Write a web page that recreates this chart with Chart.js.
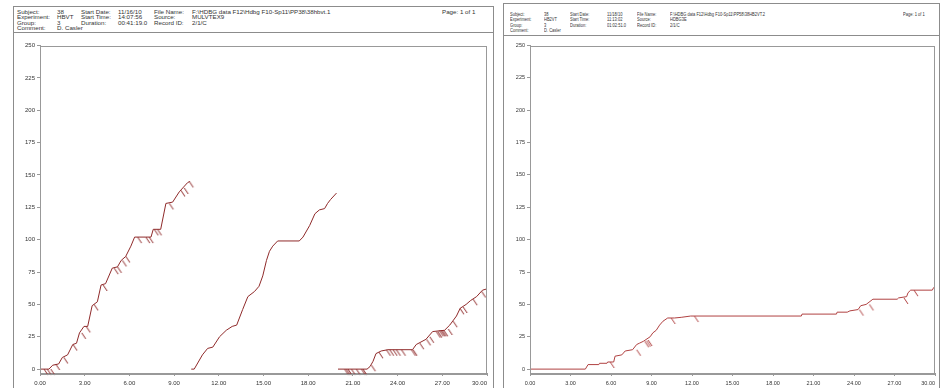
<!DOCTYPE html>
<html>
<head>
<meta charset="utf-8">
<script src="https://cdn.jsdelivr.net/npm/chart.js@4"></script>
<style>
  html, body { margin: 0; padding: 0; background: #fff; width: 940px; height: 388px; overflow: hidden; }
  .panel { position: absolute; border: 1px solid #8c8c8c; border-bottom: none; box-sizing: border-box; }
  .rule { position: absolute; height: 0; border-top: 1px solid #8c8c8c; }
  .hdr { position: absolute; font-family: 'Liberation Sans', Arial, sans-serif; color: #333; white-space: nowrap; transform-origin: 0 50%; }
  canvas { position: absolute; }
</style>
</head>
<body>
<script>
// ---------- session header text ----------
const leftHeader = [
  ['Subject:', '38', 'Start Date:', '11/16/10', 'File Name:', 'F:\\HDBG data F12\\Hdbg F10-Sp11\\PP38\\38hbvt.1'],
  ['Experiment:', 'HBVT', 'Start Time:', '14:07:56', 'Source:', 'MULVTEX9'],
  ['Group:', '3', 'Duration:', '00:41:19.0', 'Record ID:', '2/1/C'],
  ['Comment:', 'D. Casler']
];
const rightHeader = [
  ['Subject:', '38', 'Start Date:', '11/18/10', 'File Name:', 'F:\\HDBG data F12\\Hdbg F10-Sp11\\PP58\\38HB2VT.2'],
  ['Experiment:', 'HB2VT', 'Start Time:', '11:13:02', 'Source:', 'HDBG3E'],
  ['Group:', '3', 'Duration:', '01:02:51.0', 'Record ID:', '2/1/C'],
  ['Comment:', 'D. Casler']
];
const pageText = 'Page: 1 of 1';

// ---------- axis ticks (minutes, cumulative responses) ----------
const xTicks = [0, 3, 6, 9, 12, 15, 18, 21, 24, 27, 30];
const yTicks = [0, 25, 50, 75, 100, 125, 150, 175, 200, 225, 250];

// ---------- HBVT record: pen resets at each excursion ----------
const hbvtSeg1T = [0, 0.6, 0.85, 1.25, 1.5, 1.85, 2.2, 2.45, 2.65, 2.95, 3.2, 3.5, 3.85, 4.1, 4.4, 4.85, 5.2, 5.45, 5.75, 6.1, 6.35, 7.1, 7.45, 7.6, 8.1, 8.45, 8.9, 9.35, 9.9, 10.05];
const hbvtSeg1V = [0, 0, 3, 4, 9, 11, 19, 20, 28, 33, 33, 49, 52, 65, 66, 78, 79, 84, 87, 95, 102, 102, 102, 108, 108, 128, 129, 137, 144, 145];

const hbvtSeg2T = [10.15, 10.35, 10.9, 11.25, 11.6, 12.05, 12.5, 12.9, 13.2, 13.6, 13.95, 14.4, 14.7, 14.95, 15.2, 15.4, 15.62, 15.95, 17.4, 17.65, 18.1, 18.45, 18.75, 19.1, 19.3, 19.5, 19.9];
const hbvtSeg2V = [0, 0, 11, 16, 17, 25, 30, 33, 34, 46, 56, 60, 64, 72, 84, 91, 95, 99, 99, 102, 111, 120, 123, 124, 128, 131, 136];

const hbvtSeg3T = [20.0, 21.95, 22.15, 22.35, 22.55, 22.9, 23.35, 25.0, 25.25, 25.9, 26.35, 27.15, 27.5, 27.95, 28.2, 28.6, 28.9, 29.3, 29.7, 30];
const hbvtSeg3V = [0, 0, 2, 6, 12, 14, 15, 15, 19, 23, 29, 30, 34, 41, 47, 50, 53, 56, 61, 62];

// reinforcement pips (time, cumulative count)
const hbvtPipT = [0.27, 0.49, 0.72, 1.05, 1.6, 2.22, 2.8, 3.1, 3.63, 4.24, 4.98, 5.2, 5.53, 5.76, 6.55, 7.1, 7.33, 7.67, 7.89, 8.68, 9.46, 9.68, 10.02,
                  20.44, 20.56, 20.67, 20.9, 21.23, 21.57, 21.67, 22.24, 22.75, 23.25, 23.47, 23.7, 23.92, 24.26, 24.93, 25.04, 25.49, 25.94, 26.16,
                  26.6, 26.7, 26.8, 26.9, 27.0, 27.1, 27.4, 27.73, 28.18, 28.4, 29.07, 29.64];
const hbvtPipV = [0, 0, 0, 4, 9, 19, 28, 33, 50, 65, 78, 79, 84, 87, 102, 102, 102, 108, 108, 128, 138, 140, 145,
                  0, 0, 0, 0, 0, 0, 0, 3, 13, 15, 15, 15, 15, 15, 15, 15, 20, 23, 25,
                  29, 29, 30, 30, 30, 30, 31, 37, 47, 48, 54, 60];

// ---------- HB2VT record ----------
const hb2vtT = [0, 4.1, 4.3, 5.1, 5.15, 5.7, 5.75, 6.2, 6.3, 6.8, 7.05, 7.6, 7.9, 8.1, 8.4, 8.9, 9.1, 9.35, 9.6, 9.85, 10.2, 10.7, 11.2, 11.9, 20.1, 20.15, 22.7, 22.75, 23.5, 23.7, 24.3, 24.5, 24.9, 25.4, 27.2, 27.3, 27.9, 28.0, 28.2, 29.8, 29.9, 30];
const hb2vtV = [0, 0, 3.5, 3.5, 4.5, 4.5, 5.5, 5.5, 10, 11, 14, 15, 19, 20, 21.5, 25, 28, 30, 34, 37, 39.5, 39.5, 40, 41, 41, 42.5, 42.5, 44, 44, 45, 46, 49, 50, 54, 54, 55, 56, 59, 61, 61, 63, 63];

const hb2vtPipT = [5.94, 7.9, 8.5, 8.63, 8.75, 10.46, 12.18, 24.4, 25.14, 27.7, 28.44];
const hb2vtPipV = [5.5, 15, 21.5, 22, 22.5, 39.5, 41, 46, 50, 55, 61];

// ---------- page layout ----------
const FONT = "'Liberation Sans', Arial, sans-serif";
Chart.defaults.font.family = FONT;

function addBox(cls, left, top, width, height) {
  const d = document.createElement('div');
  d.className = cls;
  d.style.left = left + 'px'; d.style.top = top + 'px';
  if (width != null) d.style.width = width + 'px';
  if (height != null) d.style.height = height + 'px';
  document.body.appendChild(d);
  return d;
}

function addText(txt, x, y, size, squeeze) {
  const s = addBox('hdr', x, y);
  s.style.fontSize = size + 'px';
  s.style.lineHeight = size + 'px';
  if (squeeze !== 1) s.style.transform = 'scaleX(' + squeeze + ')';
  s.textContent = txt;
}

function addHeader(rows, cols, rowTops, size, squeeze, pageX) {
  rows.forEach((row, r) => row.forEach((txt, c) => addText(txt, cols[c], rowTops[r], size, squeeze)));
  addText(pageText, pageX, rowTops[0], size, squeeze);
}

// panel frames and header rules
addBox('panel', 13, 6, 481, 400);
addBox('rule', 13, 32, 481);
addBox('panel', 503, 3, 437, 400);
addBox('rule', 503, 35, 437);

addHeader(leftHeader, [17, 57, 81, 118, 154, 192], [8.7, 14.1, 19.5, 24.8], 6.2, 1, 442);
addHeader(rightHeader, [510, 544, 570, 607, 637, 670], [11.8, 17.2, 22.5, 27.8], 5.6, 0.72, 903);

// ---------- chart helpers ----------
function toPoints(T, V) { return T.map((t, i) => ({ x: t, y: V[i] })); }

function pipImage(color) {
  const c = document.createElement('canvas');
  c.width = 20; c.height = 20;
  const g = c.getContext('2d');
  g.strokeStyle = color; g.lineWidth = 1;
  g.beginPath(); g.moveTo(10, 10); g.lineTo(14, 16); g.stroke();
  return c;
}

// plot frame (top and right edges close the box)
const frame = {
  id: 'frame',
  afterDraw(chart) {
    const a = chart.chartArea, ctx = chart.ctx;
    ctx.save();
    ctx.strokeStyle = '#999'; ctx.lineWidth = 1;
    ctx.strokeRect(Math.round(a.left) + 0.5, Math.round(a.top) + 0.5, Math.round(a.right - a.left) - 1, Math.round(a.bottom - a.top));
    ctx.restore();
  }
};

// x tick labels, the last one kept inside the frame
const xLabels = {
  id: 'xLabels',
  afterDraw(chart, args, opts) {
    const sc = chart.scales.x, ctx = chart.ctx, a = chart.chartArea;
    ctx.save();
    ctx.font = opts.size + 'px ' + FONT;
    ctx.fillStyle = '#333';
    ctx.textBaseline = 'middle';
    xTicks.forEach(v => {
      const txt = v.toFixed(2);
      const w = ctx.measureText(txt).width;
      let x = sc.getPixelForValue(v) - w / 2;
      x = Math.min(x, a.right - w);
      ctx.fillText(txt, x, a.bottom + 10.5);
    });
    ctx.restore();
  }
};

function makeChart(left, width, padRight, lines, pipT, pipV, color, fontSize) {
  const cv = document.createElement('canvas');
  cv.width = width; cv.height = 350;
  cv.style.left = left + 'px'; cv.style.top = '38px';
  cv.style.width = width + 'px'; cv.style.height = '350px';
  document.body.appendChild(cv);

  const datasets = lines.map(([T, V]) => ({
    data: toPoints(T, V), showLine: true, borderColor: color, borderWidth: 1,
    pointRadius: 0, tension: 0, fill: false
  }));
  datasets.push({
    data: toPoints(pipT, pipV), showLine: false, pointStyle: pipImage(color),
    pointRadius: 3, clip: false
  });

  new Chart(cv, {
    type: 'scatter',
    data: { datasets },
    options: {
      responsive: false, animation: false, devicePixelRatio: 1,
      layout: { padding: { top: 7.5, right: padRight, left: 0, bottom: 0 } },
      plugins: { legend: { display: false }, tooltip: { enabled: false }, xLabels: { size: fontSize } },
      scales: {
        x: {
          type: 'linear', min: 0, max: 30,
          afterBuildTicks: s => { s.ticks = xTicks.map(v => ({ value: v })); },
          afterFit: s => { s.height = 15; },
          ticks: { display: false },
          grid: { drawOnChartArea: false, drawTicks: true, tickLength: 3, color: '#999' },
          border: { display: true, color: '#999' }
        },
        y: {
          type: 'linear', min: -3, max: 250,
          afterBuildTicks: s => { s.ticks = yTicks.map(v => ({ value: v })); },
          afterFit: s => { s.width = 27; },
          ticks: { color: '#333', font: { size: fontSize }, padding: 2, callback: v => String(v) },
          grid: { drawOnChartArea: false, drawTicks: true, tickLength: 3, color: '#999' },
          border: { display: true, color: '#999' }
        }
      }
    },
    plugins: [frame, xLabels]
  });
}

makeChart(13, 480, 6,
  [[hbvtSeg1T, hbvtSeg1V], [hbvtSeg2T, hbvtSeg2V], [hbvtSeg3T, hbvtSeg3V]],
  hbvtPipT, hbvtPipV, '#8f2a2a', 6);

makeChart(503, 437, 0,
  [[hb2vtT, hb2vtV]],
  hb2vtPipT, hb2vtPipV, '#b04242', 5.5);
</script>
</body>
</html>
